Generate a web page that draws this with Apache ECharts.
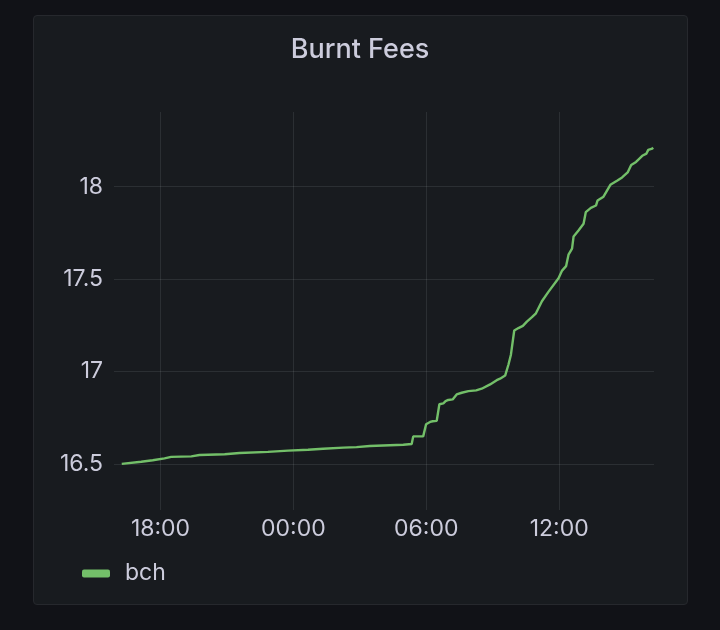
<!DOCTYPE html>
<html>
<head>
<meta charset="utf-8">
<script src="https://cdn.jsdelivr.net/npm/echarts@6/dist/echarts.min.js"></script>
<style>
  html, body { margin: 0; padding: 0; background: #111217; }
  #panel { position: absolute; left: 33px; top: 15px; width: 653px; height: 588px;
           background: #181b1f; border: 1px solid #26282d; border-radius: 4px; }
  #chart { position: absolute; left: 0; top: 0; width: 720px; height: 630px; }
</style>
</head>
<body>
<div id="panel"></div>
<div id="chart"></div>
<script>
// time in hours since 00:00 of day 1 (values > 24 are next day)
const hours = [16.25, 17.13, 17.65, 18.18, 18.48, 19.39, 19.76, 20.90, 21.57, 22.85,
  23.76, 24.66, 25.34, 26.25, 26.85, 27.45, 28.05, 28.96, 29.34, 29.41,
  29.86, 29.99, 30.17, 30.29, 30.47, 30.59, 30.77, 30.87, 30.99, 31.19,
  31.37, 31.60, 31.90, 32.25, 32.31, 32.50, 32.88, 33.18, 33.33, 33.56,
  33.71, 33.82, 33.97, 34.16, 34.36, 34.54, 34.77, 34.95, 35.22, 35.52,
  35.97, 36.13, 36.31, 36.42, 36.58, 36.65, 36.87, 37.10, 37.20, 37.43,
  37.66, 37.73, 38.00, 38.31, 38.61, 38.84, 39.09, 39.25, 39.47, 39.75,
  39.94, 40.02, 40.20, 40.24];
const bch = [16.500, 16.512, 16.520, 16.530, 16.538, 16.541, 16.548, 16.552, 16.559, 16.565,
  16.572, 16.577, 16.582, 16.588, 16.591, 16.597, 16.600, 16.604, 16.608, 16.649,
  16.649, 16.715, 16.727, 16.731, 16.733, 16.823, 16.828, 16.840, 16.846, 16.849,
  16.876, 16.885, 16.894, 16.898, 16.907, 16.907, 16.930, 16.953, 16.961, 16.978,
  17.038, 17.091, 17.222, 17.235, 17.247, 17.270, 17.294, 17.315, 17.380, 17.432,
  17.505, 17.546, 17.570, 17.632, 17.665, 17.731, 17.763, 17.799, 17.862, 17.885,
  17.898, 17.925, 17.946, 18.010, 18.032, 18.050, 18.077, 18.117, 18.134, 18.167,
  18.179, 18.199, 18.206, 18.211];
const xTicks = [18, 24, 30, 36];        // 18:00, 00:00, 06:00, 12:00
const yTicks = [16.5, 17, 17.5, 18];
const seriesName = 'bch';
const titleText = 'Burnt Fees';

const textColor = '#ccccdc';
const gridColor = 'rgba(240, 250, 255, 0.09)';
const font = 'Inter, Roboto, "Noto Sans", sans-serif';

function fmtHour(v) {
  const h = ((Math.round(v) % 24) + 24) % 24;
  return (h < 10 ? '0' : '') + h + ':00';
}

const chart = echarts.init(document.getElementById('chart'), null, { renderer: 'canvas' });
chart.setOption({
  backgroundColor: 'transparent',
  animation: false,
  textStyle: { fontFamily: font },
  title: {
    text: titleText, left: 'center', top: 31,
    textStyle: { color: textColor, fontSize: 27, fontWeight: 500, fontFamily: font }
  },
  legend: {
    data: [seriesName], left: 77, top: 557, icon: 'roundRect',
    itemWidth: 28, itemHeight: 8, itemGap: 16,
    textStyle: { color: textColor, fontSize: 23, fontFamily: font, padding: [0, 0, 0, 10] }
  },
  grid: { left: 114, right: 66, top: 112, bottom: 128, containLabel: false },
  xAxis: {
    type: 'value', min: 15.9, max: 40.28,
    minInterval: 6, maxInterval: 6,
    axisLine: { show: false },
    axisTick: { show: true, length: 8, lineStyle: { color: gridColor, width: 1 } },
    splitLine: { show: true, showMinLine: false, showMaxLine: false, lineStyle: { color: gridColor, width: 1 } },
    axisLabel: {
      color: textColor, fontSize: 23, fontFamily: font, margin: 16,
      showMinLabel: false, showMaxLabel: false,
      formatter: function (v) { return xTicks.indexOf(Math.round(v * 100) / 100) >= 0 ? fmtHour(v) : ''; }
    }
  },
  yAxis: {
    type: 'value', min: 16.294, max: 18.404,
    minInterval: 0.5, maxInterval: 0.5,
    axisLine: { show: false },
    axisTick: { show: false },
    splitLine: { show: true, showMinLine: false, showMaxLine: false, lineStyle: { color: gridColor, width: 1 } },
    axisLabel: {
      color: textColor, fontSize: 23, fontFamily: font, margin: 11,
      showMinLabel: false, showMaxLabel: false,
      formatter: function (v) {
        const r = Math.round(v * 1000) / 1000;
        return yTicks.indexOf(r) >= 0 ? String(r) : '';
      }
    }
  },
  series: [{
    name: seriesName, type: 'line', showSymbol: false, symbol: 'none',
    data: hours.map((h, i) => [h, bch[i]]),
    lineStyle: { color: '#73bf69', width: 2.4 },
    itemStyle: { color: '#73bf69' }
  }]
});
</script>
</body>
</html>
